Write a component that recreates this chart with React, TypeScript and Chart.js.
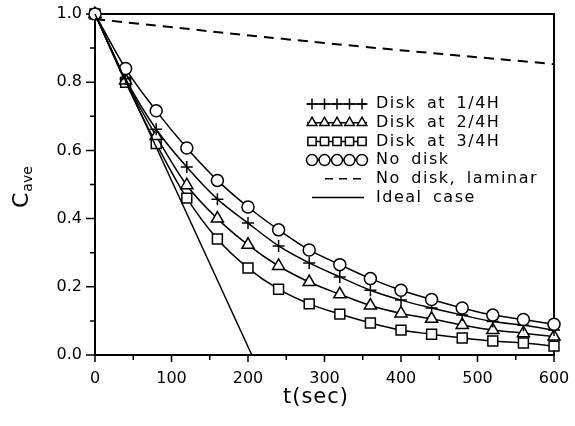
import React, { useEffect, useRef } from "react";
import { Chart, registerables } from "chart.js";

Chart.register(...registerables);

// ---------- data ----------
const T = [0, 40, 80, 120, 160, 200, 240, 280, 320, 360, 400, 440, 480, 520, 560, 600];
const DISK_1_4H = [1.0, 0.81, 0.662, 0.551, 0.457, 0.387, 0.32, 0.27, 0.229, 0.19, 0.161, 0.138, 0.117, 0.098, 0.087, 0.073];
const DISK_2_4H = [1.0, 0.805, 0.642, 0.498, 0.4, 0.323, 0.261, 0.214, 0.178, 0.145, 0.122, 0.106, 0.088, 0.073, 0.064, 0.054];
const DISK_3_4H = [1.0, 0.8, 0.62, 0.46, 0.34, 0.255, 0.193, 0.15, 0.12, 0.094, 0.073, 0.061, 0.05, 0.041, 0.035, 0.026];
const NO_DISK = [1.0, 0.84, 0.716, 0.607, 0.512, 0.434, 0.367, 0.308, 0.265, 0.224, 0.19, 0.163, 0.138, 0.117, 0.104, 0.09];
const T_LAMINAR = [0, 300, 600];
const NO_DISK_LAMINAR = [0.985, 0.915, 0.853];
const T_IDEAL = [0, 205];
const IDEAL = [1.0, 0.0];

const X_TICKS = [0, 100, 200, 300, 400, 500, 600];
const Y_TICKS = [0, 0.2, 0.4, 0.6, 0.8, 1.0];

const LEGEND_LABELS = [
  "Disk at 1/4H",
  "Disk at 2/4H",
  "Disk at 3/4H",
  "No disk",
  "No disk, laminar",
  "Ideal case",
];

const FONT = "'DejaVu Sans', 'Liberation Sans', sans-serif";

const pts = (xs: number[], ys: number[]) => xs.map((x, i) => ({ x, y: ys[i] }));

function drawMarker(ctx: CanvasRenderingContext2D, style: string, x: number, y: number, r: number) {
  ctx.beginPath();
  if (style === "circle") {
    ctx.arc(x, y, r, 0, Math.PI * 2);
    ctx.fill();
    ctx.stroke();
  } else if (style === "cross") {
    ctx.moveTo(x - r, y);
    ctx.lineTo(x + r, y);
    ctx.moveTo(x, y - r);
    ctx.lineTo(x, y + r);
    ctx.stroke();
  } else if (style === "triangle") {
    ctx.moveTo(x, y - r);
    ctx.lineTo(x + 0.866 * r, y + 0.5 * r);
    ctx.lineTo(x - 0.866 * r, y + 0.5 * r);
    ctx.closePath();
    ctx.fill();
    ctx.stroke();
  } else if (style === "rect") {
    const s = r * 0.75;
    ctx.rect(x - s, y - s, 2 * s, 2 * s);
    ctx.fill();
    ctx.stroke();
  }
}

const framePlugin = {
  id: "frame",
  beforeDatasetsDraw(chart: any) {
    const ctx = chart.ctx as CanvasRenderingContext2D;
    const { left, right, top, bottom } = chart.chartArea;
    const xs = chart.scales.x;
    const ys = chart.scales.y;
    ctx.save();
    ctx.strokeStyle = "#000";
    ctx.lineWidth = 2;
    ctx.strokeRect(left, top, right - left, bottom - top);
    ctx.lineWidth = 1.5;
    ctx.beginPath();
    for (let v = 0; v <= 600; v += 50) {
      const major = v % 100 === 0;
      const px = xs.getPixelForValue(v);
      ctx.moveTo(px, bottom);
      ctx.lineTo(px, bottom + (major ? 7 : 5));
    }
    for (let i = 0; i <= 10; i++) {
      const major = i % 2 === 0;
      const py = ys.getPixelForValue(i / 10);
      ctx.moveTo(left, py);
      ctx.lineTo(left - (major ? 9 : 5), py);
    }
    ctx.stroke();
    ctx.restore();
  },
  afterDraw(chart: any) {
    const ctx = chart.ctx as CanvasRenderingContext2D;
    ctx.save();
    ctx.fillStyle = "#000";
    ctx.strokeStyle = "#000";

    // x title
    ctx.font = `21px ${FONT}`;
    (ctx as any).letterSpacing = "1px";
    ctx.textAlign = "center";
    ctx.textBaseline = "middle";
    ctx.fillText("t(sec)", 316, 398);

    // y title C_ave (rotated)
    ctx.save();
    ctx.rotate(-Math.PI / 2);
    (ctx as any).letterSpacing = "0px";
    ctx.textAlign = "left";
    ctx.textBaseline = "alphabetic";
    ctx.font = `22px ${FONT}`;
    ctx.fillText("C", -208, 28);
    const cw = ctx.measureText("C").width;
    ctx.font = `14px ${FONT}`;
    ctx.fillText("ave", -208 + cw + 1, 32);
    ctx.restore();

    // legend
    const rowY0 = 104;
    const dy = 18.7;
    const styles = ["cross", "triangle", "rect", "circle"];
    ctx.lineWidth = 1.5;
    ctx.fillStyle = "#fff";
    for (let i = 0; i < 4; i++) {
      const y = rowY0 + i * dy;
      ctx.beginPath();
      ctx.moveTo(307, y);
      ctx.lineTo(367, y);
      ctx.stroke();
      for (let k = 0; k < 5; k++) {
        drawMarker(ctx, styles[i], 312 + k * 12.5, y, 5.5);
      }
    }
    // dashed sample
    let y = rowY0 + 4 * dy;
    ctx.save();
    ctx.setLineDash([8, 6]);
    ctx.beginPath();
    ctx.moveTo(325, y);
    ctx.lineTo(364, y);
    ctx.stroke();
    ctx.restore();
    // solid sample
    y = rowY0 + 5 * dy;
    ctx.beginPath();
    ctx.moveTo(312, y);
    ctx.lineTo(364, y);
    ctx.stroke();

    ctx.fillStyle = "#000";
    ctx.font = `16px ${FONT}`;
    (ctx as any).letterSpacing = "1.5px";
    (ctx as any).wordSpacing = "4px";
    ctx.textAlign = "left";
    ctx.textBaseline = "middle";
    LEGEND_LABELS.forEach((lab, i) => {
      ctx.fillText(lab, 376, rowY0 + i * dy);
    });
    ctx.restore();
  },
};

export default function App() {
  const ref = useRef<HTMLCanvasElement | null>(null);

  useEffect(() => {
    if (!ref.current) return;
    const markerDs = (label: string, ys: number[], style: string, r: number) => ({
      label,
      data: pts(T, ys),
      borderColor: "#000",
      backgroundColor: "#fff",
      borderWidth: 1.5,
      pointStyle: style,
      pointRadius: r,
      pointBorderWidth: 1.5,
      pointBorderColor: "#000",
      pointBackgroundColor: "#fff",
      cubicInterpolationMode: "monotone" as const,
      clip: false as any,
    });
    const chart = new Chart(ref.current, {
      type: "line",
      data: {
        datasets: [
          {
            label: "No disk, laminar",
            data: pts(T_LAMINAR, NO_DISK_LAMINAR),
            borderColor: "#000",
            borderWidth: 2,
            borderDash: [10, 7],
            pointRadius: 0,
            tension: 0.4,
            clip: false as any,
          },
          {
            label: "Ideal case",
            data: pts(T_IDEAL, IDEAL),
            borderColor: "#000",
            borderWidth: 1.5,
            pointRadius: 0,
            tension: 0,
            clip: false as any,
          },
          markerDs("No disk", NO_DISK, "circle", 6),
          markerDs("Disk at 1/4H", DISK_1_4H, "cross", 6),
          markerDs("Disk at 2/4H", DISK_2_4H, "triangle", 7),
          markerDs("Disk at 3/4H", DISK_3_4H, "rect", 7),
        ],
      },
      options: {
        responsive: false,
        animation: false,
        events: [],
        layout: { padding: { left: 0, right: 21, top: 14, bottom: 0 } },
        plugins: {
          legend: { display: false },
          tooltip: { enabled: false },
          title: { display: false },
        },
        scales: {
          x: {
            type: "linear",
            min: 0,
            max: 600,
            afterBuildTicks: (s: any) => {
              s.ticks = X_TICKS.map((v) => ({ value: v }));
            },
            afterFit: (s: any) => {
              s.height = 71;
              s.paddingLeft = 0;
              s.paddingRight = 0;
              s.paddingTop = 0;
              s.paddingBottom = 0;
            },
            ticks: {
              color: "#000",
              font: { family: FONT, size: 16 },
              padding: 14,
              maxRotation: 0,
              autoSkip: false,
            },
            grid: { display: false, drawTicks: false },
            border: { display: false },
          },
          y: {
            type: "linear",
            min: 0,
            max: 1,
            afterBuildTicks: (s: any) => {
              s.ticks = Y_TICKS.map((v) => ({ value: v }));
            },
            afterFit: (s: any) => {
              s.width = 95;
              s.paddingLeft = 0;
              s.paddingRight = 0;
              s.paddingTop = 0;
              s.paddingBottom = 0;
            },
            ticks: {
              color: "#000",
              font: { family: FONT, size: 16 },
              padding: 13,
              autoSkip: false,
              callback: (v: any) => Number(v).toFixed(1),
            },
            grid: { display: false, drawTicks: false },
            border: { display: false },
          },
        },
      },
      plugins: [framePlugin],
    });
    return () => chart.destroy();
  }, []);

  return (
    <div style={{ position: "absolute", left: 0, top: 0, width: 575, height: 426, background: "#fff" }}>
      <canvas ref={ref} width={575} height={426} style={{ display: "block" }} />
    </div>
  );
}
